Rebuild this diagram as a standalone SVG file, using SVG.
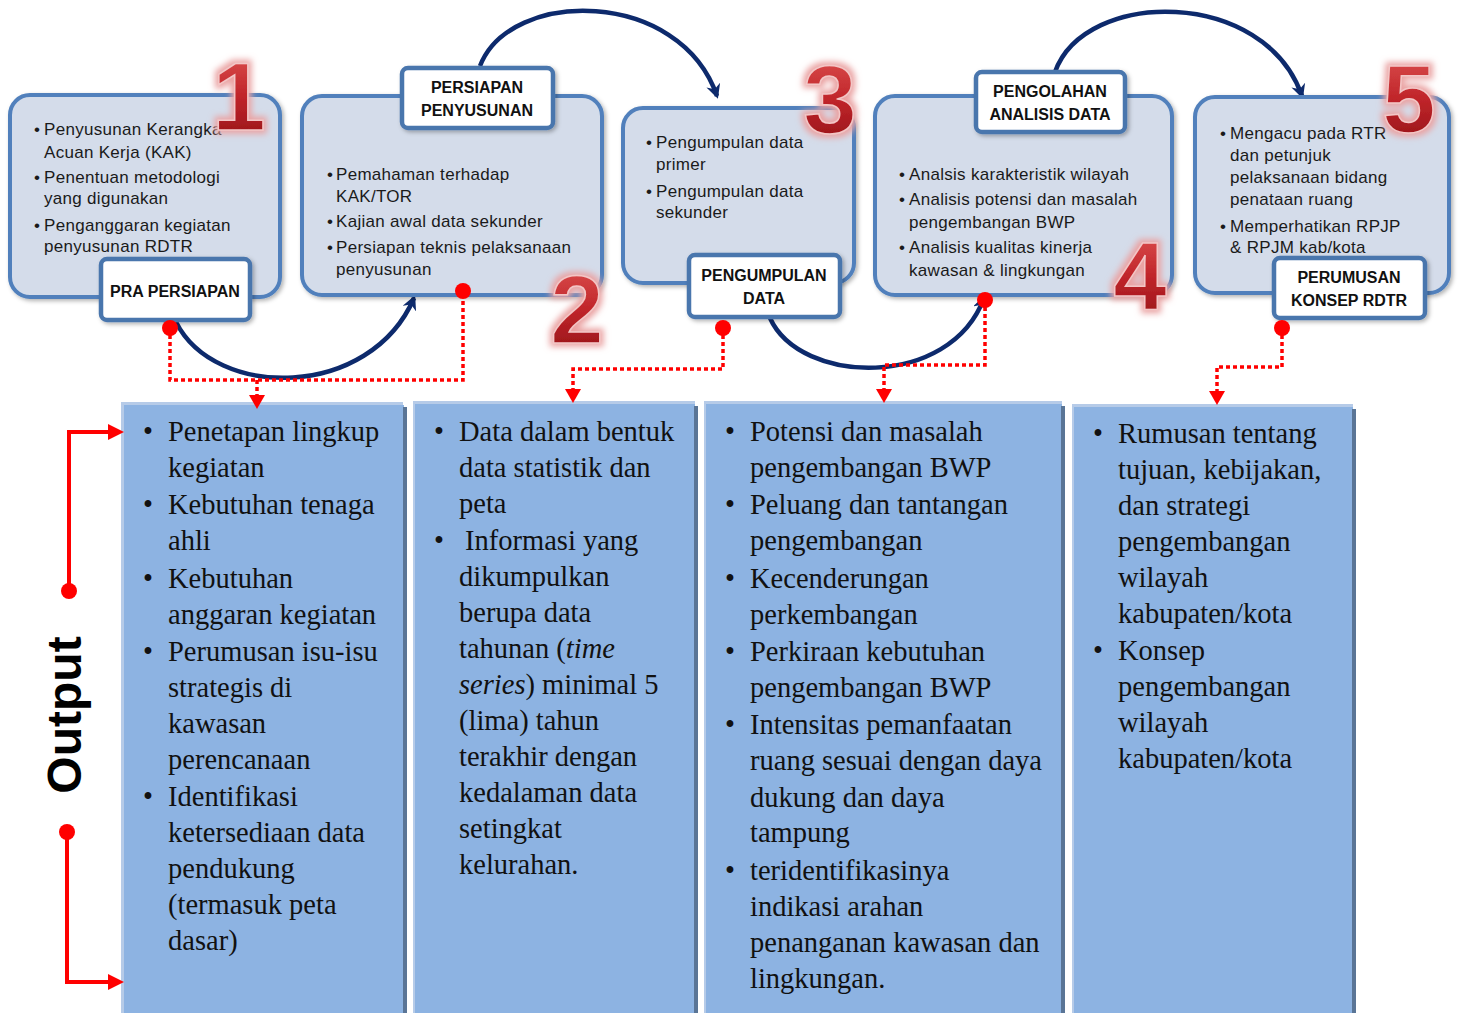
<svg xmlns="http://www.w3.org/2000/svg" width="1461" height="1013" viewBox="0 0 1461 1013">
  <style>
    .box { fill: #d4dcea; stroke: #5180bc; stroke-width: 4; }
    .lbl { fill: #ffffff; stroke: #4a76ad; stroke-width: 4.5; }
    .lbltxt { font-family: "Liberation Sans", Arial, sans-serif; font-weight: bold; font-size: 16px; fill: #111; text-anchor: middle; }
    .itm { font-family: "Liberation Sans", Arial, sans-serif; font-size: 17px; letter-spacing: 0.3px; fill: #1a1a1a; }
    .num { font-family: "Liberation Sans", Arial, sans-serif; font-weight: bold; font-size: 96px; fill: url(#numFill); stroke: #f3c6c6; stroke-width: 1.5; text-anchor: middle; }
    .col { font-family: "Liberation Serif", "Times New Roman", serif; font-size: 28.5px; fill: #111; }
    .colLight { fill: #b6cbe8; }
    .colMain { fill: #8db3e2; }
    .colShade { fill: #5a7596; }
    .flow { fill: none; stroke: #0d2a6c; stroke-width: 4.5; }
    .dots { fill: none; stroke: #ff0000; stroke-width: 3.5; stroke-dasharray: 4 3; }
    .red { fill: #ff0000; }
    .redline { fill: none; stroke: #ff0000; stroke-width: 4; }
  </style>
  <defs>
    <linearGradient id="numFill" x1="0" y1="0" x2="0" y2="1">
      <stop offset="0" stop-color="#e05654"/>
      <stop offset="0.5" stop-color="#c0252a"/>
      <stop offset="1" stop-color="#8f1116"/>
    </linearGradient>
    <filter id="shadow" x="-10%" y="-10%" width="125%" height="130%">
      <feDropShadow dx="2" dy="2" stdDeviation="2" flood-color="#000" flood-opacity="0.3"/>
    </filter>
    <filter id="glow" x="-40%" y="-40%" width="180%" height="180%">
      <feMorphology in="SourceAlpha" operator="dilate" radius="3" result="d"/>
      <feGaussianBlur in="d" stdDeviation="3" result="b"/>
      <feFlood flood-color="#eaa3a3"/>
      <feComposite in2="b" operator="in" result="g"/>
      <feMerge><feMergeNode in="g"/><feMergeNode in="SourceGraphic"/></feMerge>
    </filter>
    <marker id="navyHead" viewBox="0 0 10 10" refX="8" refY="5" markerWidth="3.2" markerHeight="3.2" orient="auto" markerUnits="strokeWidth">
      <path d="M0,0 L10,5 L0,10 L3,5 Z" fill="#0d2a6c"/>
    </marker>
  </defs>

  <!-- output columns -->
  <g id="col1">
    <rect class="colLight" x="121" y="402" width="282" height="611"/>
    <rect class="colMain" x="124" y="405" width="280" height="608"/>
    <rect class="colShade" x="403" y="407" width="4" height="606"/>
    <text class="col">
      <tspan x="143" y="441">•</tspan><tspan x="168" y="441">Penetapan lingkup</tspan>
      <tspan x="168" y="477">kegiatan</tspan>
      <tspan x="143" y="514">•</tspan><tspan x="168" y="514">Kebutuhan tenaga</tspan>
      <tspan x="168" y="550">ahli</tspan>
      <tspan x="143" y="588">•</tspan><tspan x="168" y="588">Kebutuhan</tspan>
      <tspan x="168" y="624">anggaran kegiatan</tspan>
      <tspan x="143" y="661">•</tspan><tspan x="168" y="661">Perumusan isu-isu</tspan>
      <tspan x="168" y="697">strategis di</tspan>
      <tspan x="168" y="733">kawasan</tspan>
      <tspan x="168" y="769">perencanaan</tspan>
      <tspan x="143" y="806">•</tspan><tspan x="168" y="806">Identifikasi</tspan>
      <tspan x="168" y="842">ketersediaan data</tspan>
      <tspan x="168" y="878">pendukung</tspan>
      <tspan x="168" y="914">(termasuk peta</tspan>
      <tspan x="168" y="950">dasar)</tspan>
    </text>
  </g>
  <g id="col2">
    <rect class="colLight" x="413" y="401" width="282" height="612"/>
    <rect class="colMain" x="415" y="404" width="280" height="609"/>
    <rect class="colShade" x="694" y="406" width="4" height="607"/>
    <text class="col">
      <tspan x="434" y="441">•</tspan><tspan x="459" y="441">Data dalam bentuk</tspan>
      <tspan x="459" y="477">data statistik dan</tspan>
      <tspan x="459" y="513">peta</tspan>
      <tspan x="434" y="550">•</tspan><tspan x="465" y="550">Informasi yang</tspan>
      <tspan x="459" y="586">dikumpulkan</tspan>
      <tspan x="459" y="622">berupa data</tspan>
      <tspan x="459" y="658">tahunan (<tspan font-style="italic">time</tspan></tspan>
      <tspan x="459" y="694"><tspan font-style="italic">series</tspan>) minimal 5</tspan>
      <tspan x="459" y="730">(lima) tahun</tspan>
      <tspan x="459" y="766">terakhir dengan</tspan>
      <tspan x="459" y="802">kedalaman data</tspan>
      <tspan x="459" y="838">setingkat</tspan>
      <tspan x="459" y="874">kelurahan.</tspan>
    </text>
  </g>
  <g id="col3">
    <rect class="colLight" x="704" y="401" width="358" height="612"/>
    <rect class="colMain" x="706" y="404" width="356" height="609"/>
    <rect class="colShade" x="1061" y="406" width="4" height="607"/>
    <text class="col">
      <tspan x="725" y="441">•</tspan><tspan x="750" y="441">Potensi dan masalah</tspan>
      <tspan x="750" y="477">pengembangan BWP</tspan>
      <tspan x="725" y="514">•</tspan><tspan x="750" y="514">Peluang dan tantangan</tspan>
      <tspan x="750" y="550">pengembangan</tspan>
      <tspan x="725" y="588">•</tspan><tspan x="750" y="588">Kecenderungan</tspan>
      <tspan x="750" y="624">perkembangan</tspan>
      <tspan x="725" y="661">•</tspan><tspan x="750" y="661">Perkiraan kebutuhan</tspan>
      <tspan x="750" y="697">pengembangan BWP</tspan>
      <tspan x="725" y="734">•</tspan><tspan x="750" y="734">Intensitas pemanfaatan</tspan>
      <tspan x="750" y="770">ruang sesuai dengan daya</tspan>
      <tspan x="750" y="807">dukung dan daya</tspan>
      <tspan x="750" y="842">tampung</tspan>
      <tspan x="725" y="880">•</tspan><tspan x="750" y="880">teridentifikasinya</tspan>
      <tspan x="750" y="916">indikasi arahan</tspan>
      <tspan x="750" y="952">penanganan kawasan dan</tspan>
      <tspan x="750" y="988">lingkungan.</tspan>
    </text>
  </g>
  <g id="col4">
    <rect class="colLight" x="1072" y="404" width="281" height="609"/>
    <rect class="colMain" x="1074" y="407" width="279" height="606"/>
    <rect class="colShade" x="1352" y="409" width="4" height="604"/>
    <text class="col">
      <tspan x="1093" y="443">•</tspan><tspan x="1118" y="443">Rumusan tentang</tspan>
      <tspan x="1118" y="479">tujuan, kebijakan,</tspan>
      <tspan x="1118" y="515">dan strategi</tspan>
      <tspan x="1118" y="551">pengembangan</tspan>
      <tspan x="1118" y="587">wilayah</tspan>
      <tspan x="1118" y="623">kabupaten/kota</tspan>
      <tspan x="1093" y="660">•</tspan><tspan x="1118" y="660">Konsep</tspan>
      <tspan x="1118" y="696">pengembangan</tspan>
      <tspan x="1118" y="732">wilayah</tspan>
      <tspan x="1118" y="768">kabupaten/kota</tspan>
    </text>
  </g>

  <!-- output label with its brackets -->
  <g id="output">
    <text transform="translate(81,715) rotate(-90)" font-family="'Liberation Sans', Arial, sans-serif" font-weight="bold" font-size="48" text-anchor="middle" fill="#000">Output</text>
    <path class="redline" d="M69,591 V432 H110"/>
    <polygon class="red" points="108,424 124,432 108,440"/>
    <circle class="red" cx="69" cy="591" r="8"/>
    <path class="redline" d="M67,832 V982 H110"/>
    <polygon class="red" points="108,974 124,982 108,990"/>
    <circle class="red" cx="67" cy="832" r="8"/>
  </g>

  <!-- process flow connectors -->
  <g id="connectors">
    <path class="flow" d="M176,322 C215,400 370,400 414,298" marker-end="url(#navyHead)"/>
    <path class="flow" d="M480,66 C510,-12 680,-12 717,96" marker-end="url(#navyHead)"/>
    <path class="flow" d="M770,318 C800,385 950,390 984,298" marker-end="url(#navyHead)"/>
    <path class="flow" d="M1055,72 C1085,-12 1265,-12 1302,96" marker-end="url(#navyHead)"/>

    <path class="dots" d="M170,328 V380 H463 V291"/>
    <path class="dots" d="M257,380 V396"/>
    <polygon class="red" points="249,395 265,395 257,409"/>

    <path class="dots" d="M723,328 V369 H573 V390"/>
    <polygon class="red" points="565,389 581,389 573,403"/>

    <path class="dots" d="M985,300 V365 H884 V390"/>
    <polygon class="red" points="876,389 892,389 884,403"/>

    <path class="dots" d="M1282,328 V367 H1217 V392"/>
    <polygon class="red" points="1209,391 1225,391 1217,405"/>
  </g>

  <!-- stage 1 -->
  <g id="stage1">
    <rect class="box" x="10" y="95" width="270" height="202" rx="20" filter="url(#shadow)"/>
    <text class="itm">
      <tspan x="34" y="135">•</tspan><tspan x="44" y="135">Penyusunan Kerangka</tspan>
      <tspan x="44" y="158">Acuan Kerja (KAK)</tspan>
      <tspan x="34" y="183">•</tspan><tspan x="44" y="183">Penentuan metodologi</tspan>
      <tspan x="44" y="204">yang digunakan</tspan>
      <tspan x="34" y="231">•</tspan><tspan x="44" y="231">Penganggaran kegiatan</tspan>
      <tspan x="44" y="252">penyusunan RDTR</tspan>
    </text>
    <rect class="lbl" x="101" y="259" width="149" height="61" rx="6" filter="url(#shadow)"/>
    <text class="lbltxt" x="175" y="297">PRA PERSIAPAN</text>
    <text class="num" x="239" y="130" filter="url(#glow)">1</text>
    <circle class="red" cx="170" cy="328" r="8"/>
  </g>

  <!-- stage 2 -->
  <g id="stage2">
    <rect class="box" x="302" y="96" width="300" height="199" rx="20" filter="url(#shadow)"/>
    <text class="itm">
      <tspan x="327" y="180">•</tspan><tspan x="336" y="180">Pemahaman terhadap</tspan>
      <tspan x="336" y="202">KAK/TOR</tspan>
      <tspan x="327" y="227">•</tspan><tspan x="336" y="227">Kajian awal data sekunder</tspan>
      <tspan x="327" y="253">•</tspan><tspan x="336" y="253">Persiapan teknis pelaksanaan</tspan>
      <tspan x="336" y="275">penyusunan</tspan>
    </text>
    <rect class="lbl" x="402" y="68" width="151" height="60" rx="6" filter="url(#shadow)"/>
    <text class="lbltxt"><tspan x="477" y="93">PERSIAPAN</tspan><tspan x="477" y="116">PENYUSUNAN</tspan></text>
    <text class="num" x="577" y="343" filter="url(#glow)">2</text>
    <circle class="red" cx="463" cy="291" r="8"/>
  </g>

  <!-- stage 3 -->
  <g id="stage3">
    <rect class="box" x="623" y="108" width="231" height="175" rx="20" filter="url(#shadow)"/>
    <text class="itm">
      <tspan x="646" y="148">•</tspan><tspan x="656" y="148">Pengumpulan data</tspan>
      <tspan x="656" y="170">primer</tspan>
      <tspan x="646" y="197">•</tspan><tspan x="656" y="197">Pengumpulan data</tspan>
      <tspan x="656" y="218">sekunder</tspan>
    </text>
    <rect class="lbl" x="689" y="255" width="151" height="62" rx="6" filter="url(#shadow)"/>
    <text class="lbltxt"><tspan x="764" y="281">PENGUMPULAN</tspan><tspan x="764" y="304">DATA</tspan></text>
    <text class="num" x="830" y="133" filter="url(#glow)">3</text>
    <circle class="red" cx="723" cy="328" r="8"/>
  </g>

  <!-- stage 4 -->
  <g id="stage4">
    <rect class="box" x="875" y="96" width="297" height="199" rx="20" filter="url(#shadow)"/>
    <text class="itm">
      <tspan x="899" y="180">•</tspan><tspan x="909" y="180">Analsis karakteristik wilayah</tspan>
      <tspan x="899" y="205">•</tspan><tspan x="909" y="205">Analisis potensi dan masalah</tspan>
      <tspan x="909" y="228">pengembangan BWP</tspan>
      <tspan x="899" y="253">•</tspan><tspan x="909" y="253">Analisis kualitas kinerja</tspan>
      <tspan x="909" y="276">kawasan &amp; lingkungan</tspan>
    </text>
    <rect class="lbl" x="976" y="72" width="149" height="60" rx="6" filter="url(#shadow)"/>
    <text class="lbltxt"><tspan x="1050" y="97">PENGOLAHAN</tspan><tspan x="1050" y="120">ANALISIS DATA</tspan></text>
    <text class="num" x="1140" y="310" filter="url(#glow)">4</text>
    <circle class="red" cx="985" cy="300" r="8"/>
  </g>

  <!-- stage 5 -->
  <g id="stage5">
    <rect class="box" x="1195" y="97" width="254" height="196" rx="20" filter="url(#shadow)"/>
    <text class="itm">
      <tspan x="1220" y="139">•</tspan><tspan x="1230" y="139">Mengacu pada RTR</tspan>
      <tspan x="1230" y="161">dan petunjuk</tspan>
      <tspan x="1230" y="183">pelaksanaan bidang</tspan>
      <tspan x="1230" y="205">penataan ruang</tspan>
      <tspan x="1220" y="232">•</tspan><tspan x="1230" y="232">Memperhatikan RPJP</tspan>
      <tspan x="1230" y="253">&amp; RPJM kab/kota</tspan>
    </text>
    <rect class="lbl" x="1274" y="258" width="151" height="60" rx="6" filter="url(#shadow)"/>
    <text class="lbltxt"><tspan x="1349" y="283">PERUMUSAN</tspan><tspan x="1349" y="306">KONSEP RDTR</tspan></text>
    <text class="num" x="1409" y="132" filter="url(#glow)">5</text>
    <circle class="red" cx="1282" cy="328" r="8"/>
  </g>
</svg>
